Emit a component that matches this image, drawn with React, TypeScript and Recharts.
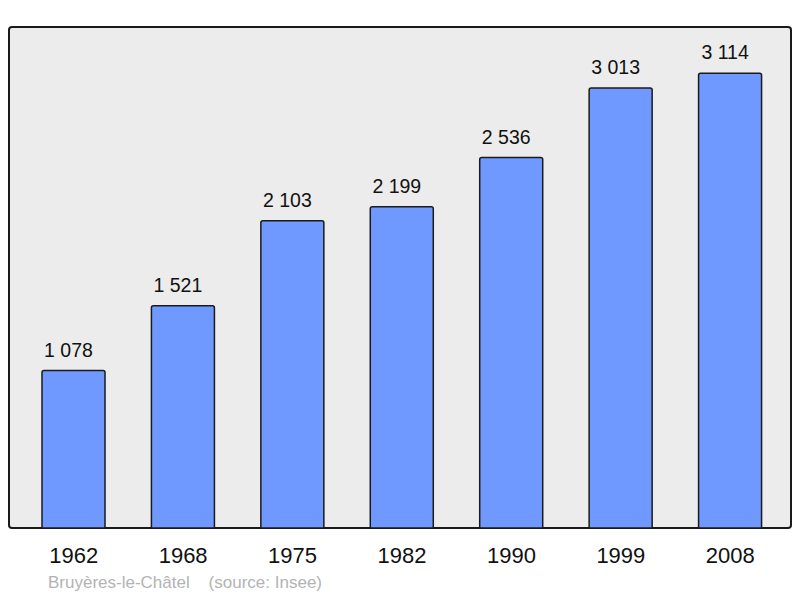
import { BarChart, Bar, XAxis, YAxis, LabelList } from 'recharts'

const years = ['1962', '1968', '1975', '1982', '1990', '1999', '2008']
const population = [1078, 1521, 2103, 2199, 2536, 3013, 3114]
const place = 'Bruyères-le-Châtel'
const source = '(source: Insee)'

const data = years.map((year, i) => ({ year, population: population[i] }))

const formatPop = (v: any) => String(v).replace(/\B(?=(\d{3})+(?!\d))/g, ' ')

export default function App() {
  return (
    <div style={{ position: 'absolute', left: 0, top: 0, width: 800, height: 598, background: '#fff', fontFamily: '"Liberation Sans", Arial, sans-serif' }}>
      {/* plot box behind the chart */}
      <div
        style={{
          position: 'absolute',
          left: 8,
          top: 26,
          width: 780,
          height: 499,
          background: '#ececec',
          border: '2px solid #1a1a1a',
          borderRadius: 4,
        }}
      />
      <div style={{ position: 'absolute', left: 0, top: 0 }}>
        <BarChart
          width={800}
          height={598}
          data={data}
          margin={{ top: 27, right: 15, bottom: 40, left: 19 }}
        >
          <XAxis
            dataKey="year"
            axisLine={false}
            tickLine={false}
            tickSize={0}
            tickMargin={19}
            height={30}
            interval={0}
            tick={{ fontSize: 22, fill: '#111', fontFamily: '"Liberation Sans", Arial, sans-serif' }}
          />
          <YAxis hide domain={[0, 3430]} />
          <Bar
            dataKey="population"
            fill="#7099ff"
            stroke="#1a1a1a"
            strokeWidth={1.5}
            barSize={63}
            radius={[2, 2, 0, 0]}
            isAnimationActive={false}
          >
            <LabelList
              dataKey="population"
              position="top"
              offset={14}
              formatter={formatPop}
              dx={-5}
              style={{ fontSize: 19.5, fill: '#111', fontFamily: '"Liberation Sans", Arial, sans-serif' }}
            />
          </Bar>
        </BarChart>
      </div>
      <div
        style={{
          position: 'absolute',
          left: 48,
          top: 574,
          fontSize: 17,
          color: '#b3b3b3',
          whiteSpace: 'pre',
          lineHeight: '18px',
        }}
      >
        {place + '    ' + source}
      </div>
    </div>
  )
}
